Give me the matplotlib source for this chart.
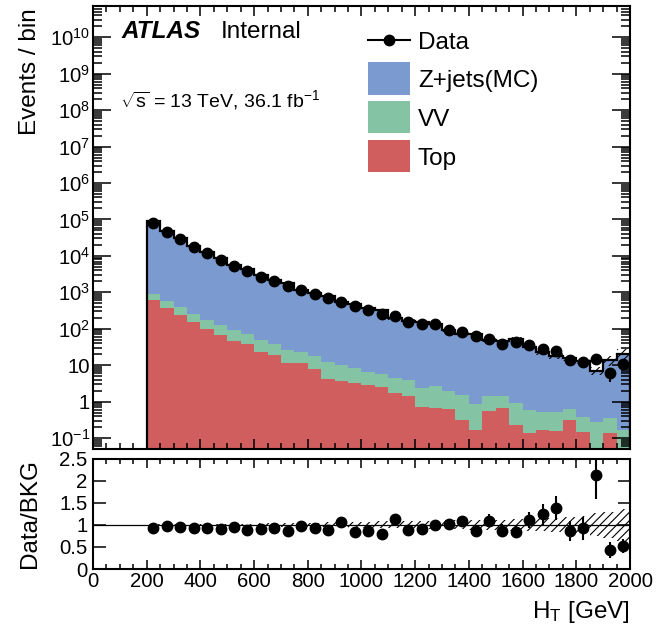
import numpy as np
import matplotlib
matplotlib.use('Agg')
import matplotlib.pyplot as plt
from matplotlib.ticker import FixedLocator, FixedFormatter, MultipleLocator, NullFormatter
from matplotlib.patches import Rectangle
from matplotlib.lines import Line2D

plt.rcParams['font.family'] = ['Liberation Sans', 'DejaVu Sans']
plt.rcParams['mathtext.fontset'] = 'custom'
plt.rcParams['mathtext.rm'] = 'Liberation Sans'
plt.rcParams['mathtext.it'] = 'Liberation Sans:italic'
plt.rcParams['mathtext.bf'] = 'Liberation Sans:bold'
plt.rcParams['hatch.linewidth'] = 0.8

# ---------------- data ----------------
bin_edges = np.arange(200, 2001, 50)

data = [81100, 45900, 29400, 17700, 12100, 7930, 5420, 3950, 2700, 2010,
        1530, 1135, 902, 700, 554, 411, 319, 254, 218, 149,
        135, 135, 94, 79, 64, 53, 39, 44, 35, 28,
        25, 14, 12, 15, 6, 11]

zjets = [86880, 46410, 30664, 18901, 12923, 8591, 5630, 4387, 2922, 2136,
         1744, 1139, 943, 778, 516, 477, 360, 316, 188, 164,
         147.6, 132.3, 90.0, 71.9, 72.6, 46.9, 43.4, 51.0, 31.0, 22.1,
         17.6, 15.6, 12.7, 6.8, 13.35, 20.7]

vv = [319, 228, 154, 110, 79, 63.5, 45, 34, 25.3, 19.4,
      15.1, 11.5, 10.2, 7.9, 6.5, 5.0, 3.8, 3.2, 2.6, 2.4,
      1.7, 2.0, 1.34, 1.22, 0.70, 0.88, 0.76, 0.67, 0.455, 0.354,
      0.364, 0.31, 0.22, 0.27, 0.215, 0.166]

top = [601, 362, 232, 149, 98, 65.5, 44.8, 38.7, 22.3, 19.3,
       11.4, 11.4, 7.94, 4.22, 3.72, 3.34, 2.88, 2.54, 1.73, 1.43,
       0.73, 0.68, 0.63, 0.31, 0.166, 0.55, 0.67, 0.23, 0.135, 0.166,
       0.156, 0.31, 0.147, 0.0, 0.135, 0.0]

rel_unc = [0.01, 0.01, 0.012, 0.014, 0.016, 0.018, 0.02, 0.025, 0.03, 0.035,
           0.04, 0.045, 0.05, 0.055, 0.06, 0.065, 0.07, 0.075, 0.08, 0.085,
           0.09, 0.095, 0.10, 0.105, 0.11, 0.12, 0.12, 0.13, 0.14, 0.15,
           0.16, 0.18, 0.20, 0.26, 0.30, 0.36]

x_ticks = [0, 200, 400, 600, 800, 1000, 1200, 1400, 1600, 1800, 2000]
x_ticklabels = ['0', '200', '400', '600', '800', '1000', '1200', '1400', '1600', '1800', '2000']
y_ticks = [1e-1, 1, 10, 1e2, 1e3, 1e4, 1e5, 1e6, 1e7, 1e8, 1e9, 1e10]
y_ticklabels = [r'$10^{-1}$', '1', '10', r'$10^{2}$', r'$10^{3}$', r'$10^{4}$', r'$10^{5}$',
                r'$10^{6}$', r'$10^{7}$', r'$10^{8}$', r'$10^{9}$', r'$10^{10}$']
r_ticks = [0, 0.5, 1, 1.5, 2, 2.5]
r_ticklabels = ['0', '0.5', '1', '1.5', '2', '2.5']

c_z = '#7b9ad0'
c_vv = '#84c4a4'
c_top = '#d05e5f'

data = np.array(data, float)
zjets = np.array(zjets, float)
vv = np.array(vv, float)
top = np.array(top, float)
rel_unc = np.array(rel_unc, float)
total = zjets + vv + top
centers = 0.5 * (bin_edges[:-1] + bin_edges[1:])
widths = np.diff(bin_edges)
floor = 1e-6

fig = plt.figure(figsize=(6.59, 6.34), dpi=100)
ax = fig.add_axes([0.1411, 0.2918, 0.8149, 0.698])
rax = fig.add_axes([0.1411, 0.1025, 0.8149, 0.1743])

# ---------------- main panel ----------------
ax.set_yscale('log')
ax.stairs(total, bin_edges, fill=True, color=c_z, baseline=floor, zorder=1)
ax.stairs(vv + top, bin_edges, fill=True, color=c_vv, baseline=floor, zorder=1.1)
ax.stairs(np.clip(top, floor, None), bin_edges, fill=True, color=c_top, baseline=floor, zorder=1.2)
ax.stairs(total, bin_edges, color='k', lw=1.6, baseline=floor, zorder=1.5)
ax.bar(centers, 2 * rel_unc * total, bottom=total * (1 - rel_unc), width=widths,
       fill=False, hatch='////', edgecolor='k', linewidth=0, zorder=1.6)
ax.errorbar(centers, data, yerr=np.sqrt(data), fmt='o', color='k', ms=7.5,
            elinewidth=1.5, capsize=0, zorder=3)

ax.set_xlim(0, 2000)
ax.set_ylim(0.05, 7e10)
ax.xaxis.set_major_locator(MultipleLocator(200))
ax.xaxis.set_minor_locator(MultipleLocator(50))
ax.xaxis.set_major_formatter(NullFormatter())
ax.yaxis.set_major_locator(FixedLocator(y_ticks))
ax.yaxis.set_major_formatter(FixedFormatter(y_ticklabels))
minor = [m * 10.0 ** e for e in range(-2, 11) for m in range(2, 10)]
ax.yaxis.set_minor_locator(FixedLocator(minor))
ax.yaxis.set_minor_formatter(NullFormatter())
ax.tick_params(axis='both', which='both', direction='in', top=True, right=True,
               labelsize=14.7, width=1.1)
ax.tick_params(axis='y', which='major', length=13, pad=2)
ax.tick_params(axis='y', which='minor', length=6.5)
ax.tick_params(axis='x', which='major', length=7.5)
ax.tick_params(axis='x', which='minor', length=4)
for s in ax.spines.values():
    s.set_linewidth(1.5)

# labels
ax.text(0.054, 0.929, 'ATLAS', transform=ax.transAxes, fontsize=17.5,
        fontweight='bold', fontstyle='italic', va='baseline', ha='left')
ax.text(0.238, 0.929, 'Internal', transform=ax.transAxes, fontsize=17.5,
        va='baseline', ha='left')
ax.text(0.050, 0.773, r'$\sqrt{\mathrm{s}}$ = 13 TeV, 36.1 fb$^{\mathrm{-1}}$',
        transform=ax.transAxes, fontsize=14, va='baseline', ha='left')

# legend (manual)
lx0, lx1, tx = 0.512, 0.590, 0.605
ax.add_line(Line2D([lx0, lx1], [0.924, 0.924], color='k', lw=1.5, transform=ax.transAxes))
ax.plot([(lx0 + lx1) / 2], [0.924], 'o', color='k', ms=7.5, transform=ax.transAxes)
ax.text(tx, 0.924, 'Data', transform=ax.transAxes, fontsize=17.5, va='center_baseline')
entries = [('Z+jets(MC)', c_z, 0.838), ('VV', c_vv, 0.750), ('Top', c_top, 0.662)]
for lab, col, yc in entries:
    ax.add_patch(Rectangle((lx0, yc - 0.037), lx1 - lx0, 0.074, transform=ax.transAxes,
                           facecolor=col, edgecolor='none'))
    ax.text(tx, yc, lab, transform=ax.transAxes, fontsize=17.5, va='center_baseline')

# ---------------- ratio panel ----------------
ratio = data / total
ratio_err = np.sqrt(data) / total
rax.bar(centers, 2 * rel_unc, bottom=1 - rel_unc, width=widths, fill=False,
        hatch='////', edgecolor='k', linewidth=0, zorder=1)
rax.axhline(1, color='k', lw=0.9, zorder=1.5)
rax.errorbar(centers, ratio, yerr=ratio_err, fmt='o', color='k', ms=7.5,
             elinewidth=1.5, capsize=0, zorder=3)
rax.set_xlim(0, 2000)
rax.set_ylim(0, 2.5)
rax.xaxis.set_major_locator(FixedLocator(x_ticks))
rax.xaxis.set_major_formatter(FixedFormatter(x_ticklabels))
rax.xaxis.set_minor_locator(MultipleLocator(50))
rax.yaxis.set_major_locator(FixedLocator(r_ticks))
rax.yaxis.set_major_formatter(FixedFormatter(r_ticklabels))
rax.tick_params(axis='both', which='both', direction='in', top=True, right=True,
                labelsize=14.7, width=1.1)
rax.tick_params(axis='y', which='major', length=9, pad=4)
rax.tick_params(axis='x', which='major', length=6.5, pad=2)
rax.tick_params(axis='x', which='minor', length=3.5)
for s in rax.spines.values():
    s.set_linewidth(1.5)

fig.text(30 / 659, 1 - 8 / 634, 'Events / bin', rotation=90, fontsize=17.5,
         ha='center', va='top')
fig.text(30 / 659, 1 - 514 / 634, 'Data/BKG', rotation=90, fontsize=17.5,
         ha='center', va='center')
fig.text(630 / 659, 1 - 612 / 634, r'H$_{\mathrm{T}}$ [GeV]', fontsize=17.5,
         ha='right', va='center')

fig.savefig('out.png', dpi=100)
